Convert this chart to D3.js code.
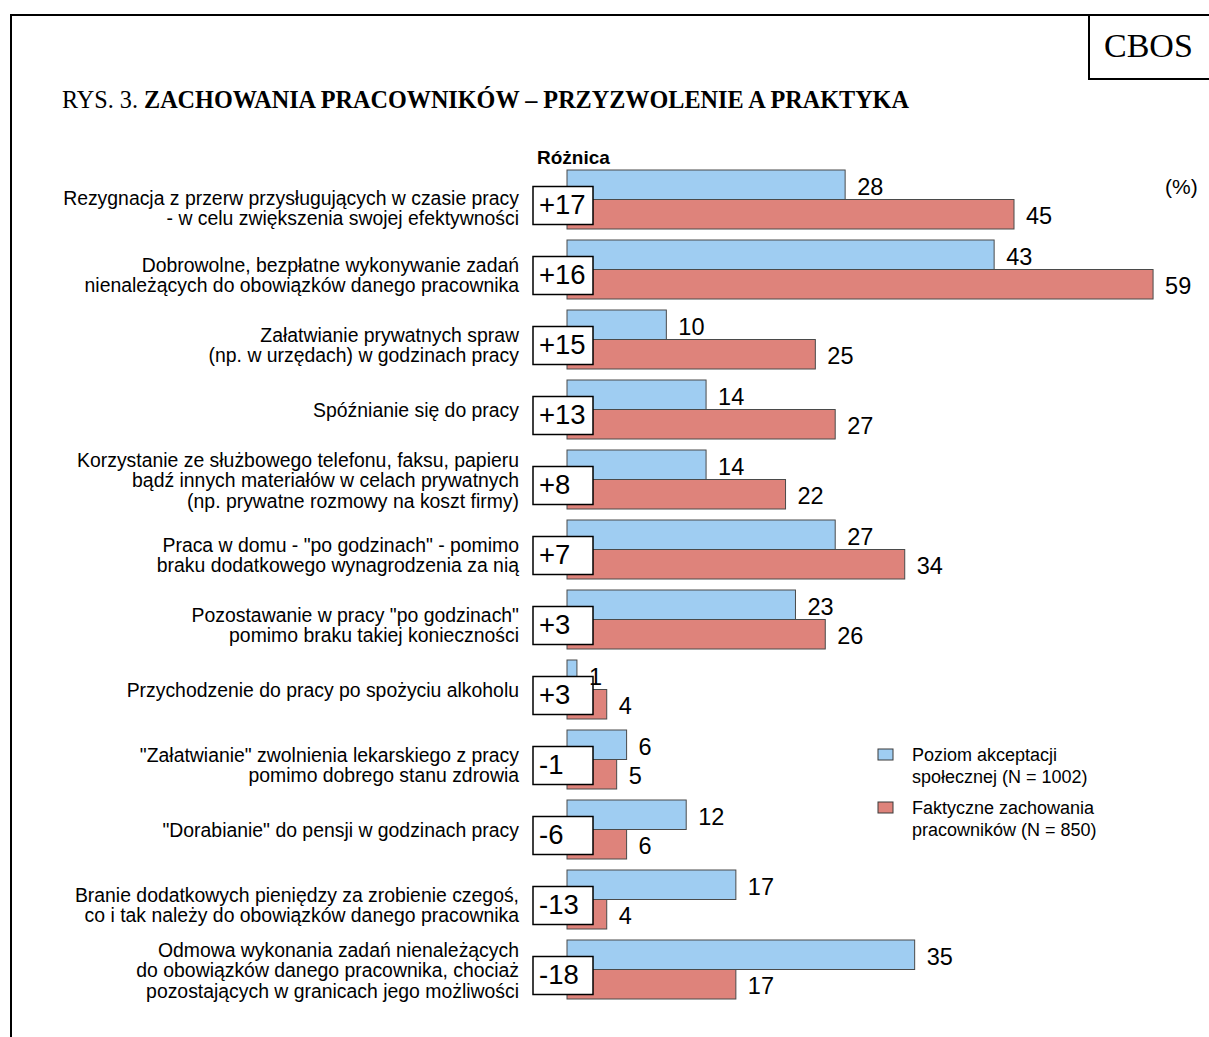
<!DOCTYPE html>
<html>
<head>
<meta charset="utf-8">
<script src="https://cdn.jsdelivr.net/npm/d3@7"></script>
<style>
  html, body { margin: 0; padding: 0; background: #fff; }
  svg { display: block; }
</style>
</head>
<body>
<svg id="chart" width="1209" height="1037"></svg>
<script>
// ---- data ----
const categories = [
  ["Rezygnacja z przerw przysługujących w czasie pracy", "- w celu zwiększenia swojej efektywności"],
  ["Dobrowolne, bezpłatne wykonywanie zadań", "nienależących do obowiązków danego pracownika"],
  ["Załatwianie prywatnych spraw", "(np. w urzędach) w godzinach pracy"],
  ["Spóźnianie się do pracy"],
  ["Korzystanie ze służbowego telefonu, faksu, papieru", "bądź innych materiałów w celach prywatnych", "(np. prywatne rozmowy na koszt firmy)"],
  ["Praca w domu - \"po godzinach\" - pomimo", "braku dodatkowego wynagrodzenia za nią"],
  ["Pozostawanie w pracy \"po godzinach\"", "pomimo braku takiej konieczności"],
  ["Przychodzenie do pracy po spożyciu alkoholu"],
  ["\"Załatwianie\" zwolnienia  lekarskiego z pracy", "pomimo dobrego stanu zdrowia"],
  ["\"Dorabianie\" do pensji w godzinach pracy"],
  ["Branie dodatkowych pieniędzy za zrobienie czegoś,", "co i tak należy do obowiązków danego pracownika"],
  ["Odmowa wykonania zadań nienależących", "do obowiązków danego pracownika, chociaż", "pozostających w granicach jego możliwości"]
];
const acceptance = [28, 43, 10, 14, 14, 27, 23, 1, 6, 12, 17, 35];
const behaviour  = [45, 59, 25, 27, 22, 34, 26, 4, 5, 6, 4, 17];
const difference = [17, 16, 15, 13, 8, 7, 3, 3, -1, -6, -13, -18];
const seriesNames = ["Poziom akceptacji|społecznej (N = 1002)", "Faktyczne zachowania|pracowników (N = 850)"];
const seriesKeys = ["acceptance", "behaviour"];

// ---- layout ----
const svg = d3.select("#chart");
const colors = { acceptance: "#9fcdf2", behaviour: "#de837b" };
const sans = "'Liberation Sans', Arial, sans-serif";
const serif = "'Liberation Serif', 'Times New Roman', serif";

// frame
svg.append("path")
  .attr("d", "M11,1040 L11,15 L1212,15")
  .attr("fill", "none").attr("stroke", "#000").attr("stroke-width", 2);
svg.append("path")
  .attr("d", "M1212,79 L1089,79 L1089,15")
  .attr("fill", "none").attr("stroke", "#000").attr("stroke-width", 2);
svg.append("text").attr("x", 1104).attr("y", 57)
  .attr("font-family", serif).attr("font-size", 34).text("CBOS");

// title
const title = svg.append("text").attr("x", 62).attr("y", 108)
  .attr("font-family", serif).attr("font-size", 24.2);
title.append("tspan").text("RYS. 3. ");
title.append("tspan").attr("font-weight", "bold").text("ZACHOWANIA PRACOWNIKÓW – PRZYZWOLENIE A PRAKTYKA");

// scales
const idx = d3.range(categories.length);
const y = d3.scaleBand().domain(idx).range([164.5, 1004.5])
  .paddingInner(11 / 70).paddingOuter(11 / 140);
const ys = d3.scaleBand().domain(seriesKeys).range([0, y.bandwidth()]);
const x = d3.scaleLinear().domain([0, 60]).range([567, 1163]);

const rows = idx.map(i => ({
  i, label: categories[i], acceptance: acceptance[i], behaviour: behaviour[i], diff: difference[i]
}));

const g = svg.append("g");
const row = g.selectAll("g.row").data(rows).join("g").attr("class", "row")
  .attr("transform", d => `translate(0,${y(d.i)})`);

// bars
seriesKeys.forEach(k => {
  row.append("rect")
    .attr("x", x(0)).attr("y", ys(k))
    .attr("width", d => x(d[k]) - x(0)).attr("height", ys.bandwidth())
    .attr("fill", colors[k]).attr("stroke", "#4a4a4a").attr("stroke-width", 1);
});

// category labels
row.each(function(d) {
  const n = d.label.length, lh = 20.5;
  const base = 37 + (n === 2 ? 5 : 0) + (d.i === 0 ? 3 : 0);
  const t = d3.select(this).append("text")
    .attr("text-anchor", "end").attr("font-family", sans).attr("font-size", 19.4)
    .attr("fill", "#000");
  d.label.forEach((line, j) => {
    t.append("tspan").attr("x", 519)
      .attr("y", base + (j - (n - 1) / 2) * lh)
      .text(line);
  });
});

// difference boxes
const fmt = v => (v > 0 ? "+" : "") + v;
row.append("rect")
  .attr("x", 533).attr("width", 60)
  .attr("y", y.bandwidth() / 2 - 13).attr("height", 38)
  .attr("fill", "#fff").attr("stroke", "#000").attr("stroke-width", 1.5);
row.append("text")
  .attr("x", 539).attr("y", 44)
  .attr("font-family", sans).attr("font-size", 27.5).text(d => fmt(d.diff));

// value labels
seriesKeys.forEach(k => {
  row.append("text")
    .attr("x", d => x(d[k]) + 12)
    .attr("y", ys(k) + ys.bandwidth() / 2 + 2).attr("dy", "0.35em")
    .attr("font-family", sans).attr("font-size", 23.5).text(d => d[k]);
});

// header texts
svg.append("text").attr("x", 537).attr("y", 164)
  .attr("font-family", sans).attr("font-weight", "bold").attr("font-size", 19).text("Różnica");
svg.append("text").attr("x", 1165).attr("y", 194)
  .attr("font-family", sans).attr("font-size", 21).text("(%)");

// legend
const leg = svg.append("g").attr("transform", "translate(878,749)");
seriesKeys.forEach((k, j) => {
  const lg = leg.append("g").attr("transform", `translate(0,${j * 53})`);
  lg.append("rect").attr("width", 15).attr("height", 11)
    .attr("fill", colors[k]).attr("stroke", "#3a3a3a").attr("stroke-width", 1);
  const t = lg.append("text").attr("font-family", sans).attr("font-size", 18);
  seriesNames[j].split("|").forEach((line, m) => {
    t.append("tspan").attr("x", 34).attr("y", 12 + m * 22).text(line);
  });
});
</script>
</body>
</html>
